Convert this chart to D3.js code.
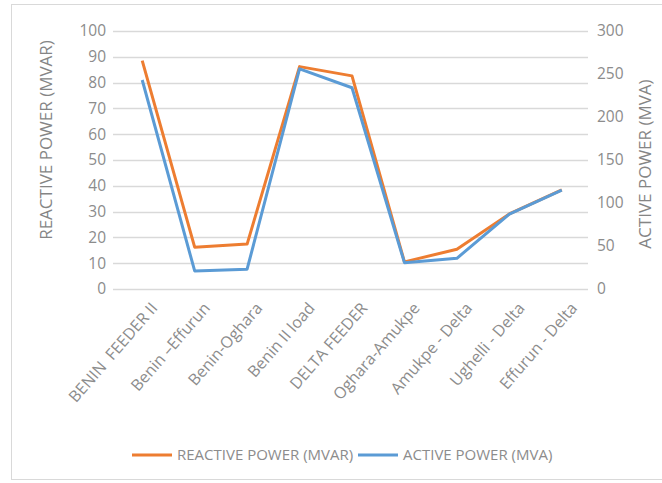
<!DOCTYPE html>
<html>
<head>
<meta charset="utf-8">
<script src="https://cdn.jsdelivr.net/npm/d3@7"></script>
<style>
  body { margin: 0; background: #fff; }
  svg text { font-family: "Open Sans", Arial, sans-serif; fill: #8c8c8c; white-space: pre; }
</style>
</head>
<body>
<svg id="chart" width="662" height="483"></svg>
<script>
// feeders along the x axis
var categories = ["BENIN  FEEDER II", "Benin \u2013Effurun", "Benin-Oghara", "Benin II load",
    "DELTA FEEDER", "Oghara-Amukpe", "Amukpe - Delta", "Ughelli - Delta", "Effurun - Delta"];

// reactive power, MVAR (left axis)
var reactivePower = [88.5, 16.2, 17.4, 86.2, 82.6, 10.5, 15.4, 29.1, 38.4];
// active power, MVA (right axis)
var activePower = [243, 21, 23, 256, 234, 30.6, 35.7, 87, 115];

var leftTicks = [0, 10, 20, 30, 40, 50, 60, 70, 80, 90, 100];
var rightTicks = [0, 50, 100, 150, 200, 250, 300];

var svg = d3.select("#chart");

// outer frame of the chart
svg.append("rect")
    .attr("x", 11.5).attr("y", 4.5)
    .attr("width", 652).attr("height", 475)
    .style("fill", "none")
    .style("stroke", "#d9d9d9");

var plot = { left: 116, right: 588, top: 31, bottom: 289 };

var x = d3.scalePoint()
    .domain(categories)
    .range([plot.left, plot.right])
    .padding(0.5);

var yLeft = d3.scaleLinear().domain([0, 100]).range([plot.bottom, plot.top]);
var yRight = d3.scaleLinear().domain([0, 300]).range([plot.bottom, plot.top]);

// gridlines
svg.append("g")
    .selectAll("line")
    .data(leftTicks)
    .enter().append("line")
    .attr("x1", plot.left - 3).attr("x2", plot.right)
    .attr("y1", function(d) { return Math.round(yLeft(d)) + 0.5; })
    .attr("y2", function(d) { return Math.round(yLeft(d)) + 0.5; })
    .style("stroke", "#d9d9d9")
    .style("stroke-width", 1.3);

// left axis labels
var leftAxis = d3.axisLeft(yLeft).tickValues(leftTicks).tickSize(0).tickPadding(7);
var gl = svg.append("g").attr("transform", "translate(" + (plot.left - 3) + ",0)").call(leftAxis);
gl.select(".domain").remove();
gl.selectAll("text").style("font-size", "15.5px").style("fill", "#8c8c8c")
    .style("font-family", "'Open Sans', sans-serif");

// right axis labels
var rightAxis = d3.axisRight(yRight).tickValues(rightTicks).tickSize(0).tickPadding(9);
var gr = svg.append("g").attr("transform", "translate(" + plot.right + ",0)").call(rightAxis);
gr.select(".domain").remove();
gr.selectAll("text").style("font-size", "15.5px").style("fill", "#8c8c8c")
    .style("font-family", "'Open Sans', sans-serif");

// category labels, slanted
svg.append("g")
    .selectAll("text")
    .data(categories)
    .enter().append("text")
    .attr("transform", function(d) { return "translate(" + (x(d) + 12) + "," + (plot.bottom + 16) + ") rotate(-49)"; })
    .attr("text-anchor", "end")
    .attr("dy", "0.35em")
    .style("font-size", "16px")
    .text(function(d) { return d; });

// axis titles
svg.append("text")
    .attr("transform", "translate(52,140) rotate(-90)")
    .attr("text-anchor", "middle")
    .style("font-size", "17px")
    .style("fill", "#858585")
    .text("REACTIVE POWER (MVAR)");

svg.append("text")
    .attr("transform", "translate(651,164) rotate(-90)")
    .attr("text-anchor", "middle")
    .style("font-size", "17px")
    .style("fill", "#858585")
    .text("ACTIVE POWER (MVA)");

// lines
var lineReactive = d3.line()
    .x(function(d, i) { return x(categories[i]); })
    .y(function(d) { return yLeft(d); });

var lineActive = d3.line()
    .x(function(d, i) { return x(categories[i]); })
    .y(function(d) { return yRight(d); });

svg.append("path")
    .datum(reactivePower)
    .attr("d", lineReactive)
    .style("fill", "none")
    .style("stroke", "#ED7D31")
    .style("stroke-width", 3)
    .style("stroke-linejoin", "round");

svg.append("path")
    .datum(activePower)
    .attr("d", lineActive)
    .style("fill", "none")
    .style("stroke", "#5B9BD5")
    .style("stroke-width", 3)
    .style("stroke-linejoin", "round");

// legend
var legend = [
    { name: "REACTIVE POWER (MVAR)", color: "#ED7D31", x: 132 },
    { name: "ACTIVE POWER (MVA)", color: "#5B9BD5", x: 358 }
];
var lg = svg.append("g").selectAll("g").data(legend).enter().append("g")
    .attr("transform", function(d) { return "translate(" + d.x + ",455)"; });
lg.append("line")
    .attr("x1", 0).attr("x2", 40)
    .style("stroke", function(d) { return d.color; })
    .style("stroke-width", 3);
lg.append("text")
    .attr("x", 45)
    .attr("dy", "0.35em")
    .style("font-size", "15px")
    .text(function(d) { return d.name; });
</script>
</body>
</html>
